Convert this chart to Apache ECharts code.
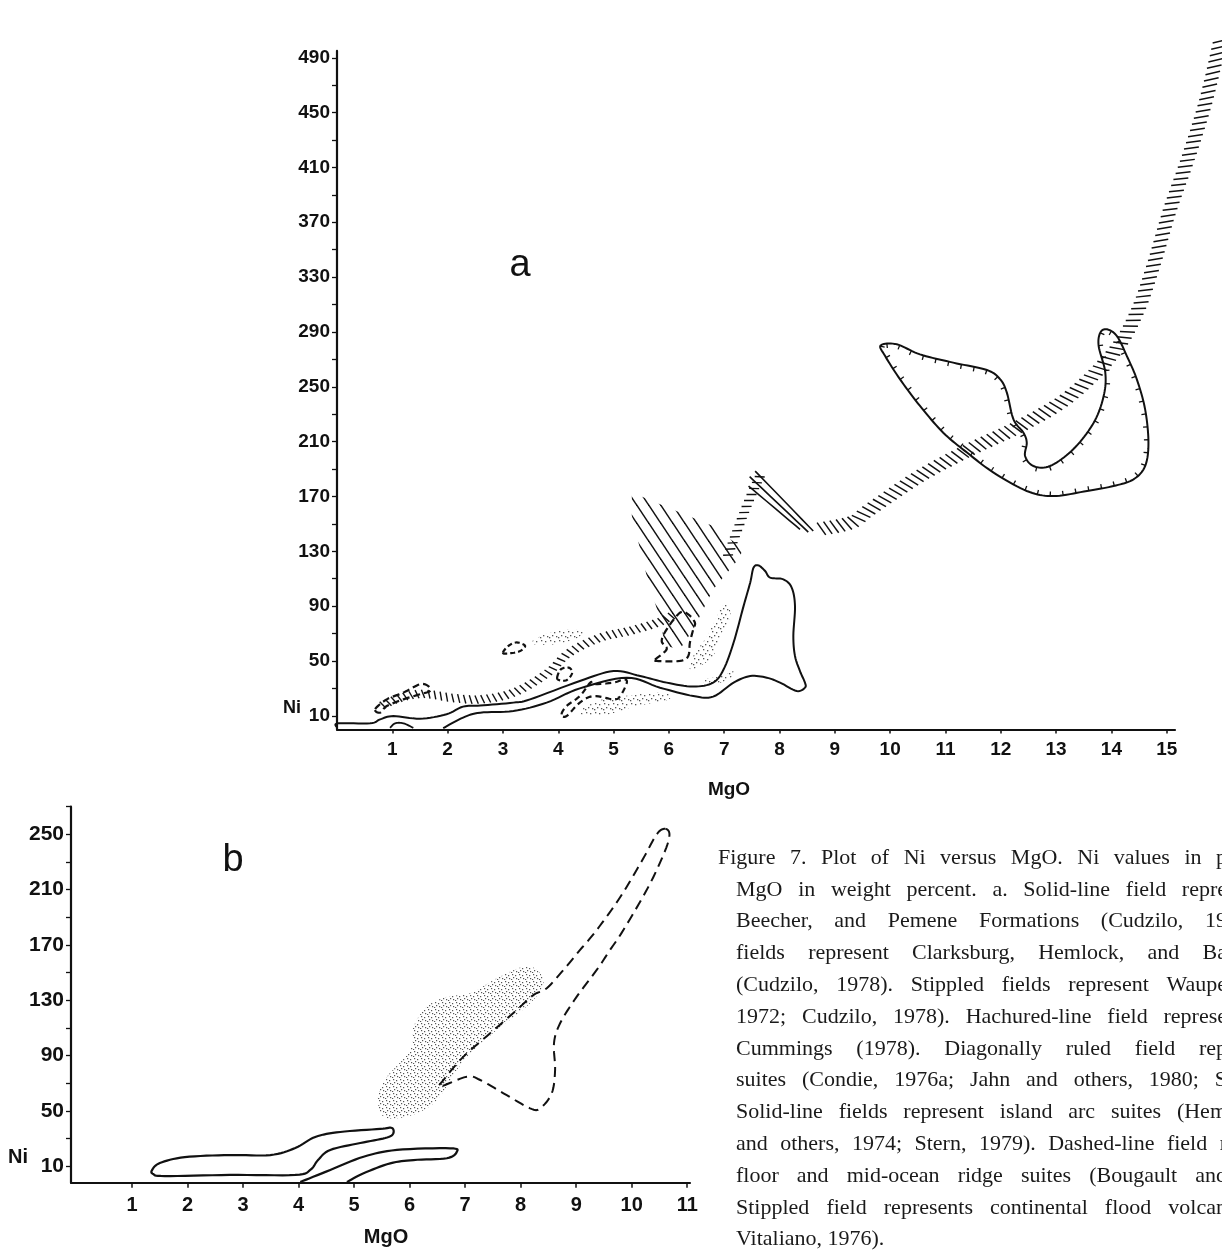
<!DOCTYPE html>
<html><head><meta charset="utf-8">
<script src="https://cdn.jsdelivr.net/npm/echarts@6/dist/echarts.min.js"></script>
<style>html,body{margin:0;padding:0;background:#fff}#c{width:1222px;height:1255px}</style>
</head><body><div id="c"></div>
<script>
// ---------------- DATA ----------------
// Chart a axes
const xLabelsA = [1,2,3,4,5,6,7,8,9,10,11,12,13,14,15];
const yLabelsA = [10,50,90,130,170,210,250,290,330,370,410,450,490];
const yTicksA = [10,30,50,70,90,110,130,150,170,190,210,230,250,270,290,310,330,350,370,390,410,430,450,470,490];
// Chart b axes
const xLabelsB = [1,2,3,4,5,6,7,8,9,10,11];
const yLabelsB = [10,50,90,130,170,210,250];
const yTicksB = [10,30,50,70,90,110,130,150,170,190,210,230,250,270];

// Chart a: solid-line field (open along MgO axis)  [MgO, Ni]
const aSolidField = [[1.92,1],[2.28,8.7],[2.59,12.3],[3.19,13.5],[3.79,19.6],[4.39,30],[5.24,37.8],[5.84,30.5],[6.44,24.4],[6.8,24],[7.17,34.2],[7.47,39],[7.77,37.8],[8.01,34.2],[8.31,28.1],[8.46,30.5],[8.46,34.2],[8.37,42.6],[8.28,53.6],[8.25,68.2],[8.28,90],[8.22,103.5],[8.07,109.5],[7.83,110.8],[7.74,115.6],[7.62,119.7],[7.53,118],[7.47,107.1],[7.35,90],[7.17,63.4],[6.99,43.9],[6.8,34.2],[6.44,31.3],[5.96,34.2],[5.48,39],[5.0,42.6],[4.39,35.4],[3.49,22],[3.19,19.6],[2.59,17.5],[2.28,16.7],[1.98,11.1],[1.5,7.9],[1.02,9.8],[0.78,7.4],[0.6,4.5],[0.02,4.5],[0,1.4]];
const aSolidArc = [[0.96,1.2],[1.05,4.5],[1.2,4.5],[1.38,1.2]];
// Chart a: dashed-line fields
const aDash1 = [[0.69,14.8],[0.9,22],[1.2,26.9],[1.5,33],[1.65,31.7],[1.68,28.1],[1.5,25.7],[1.2,22],[0.9,17.1],[0.78,12.3]];
const aDash2 = [[3.0,56],[3.1,61],[3.25,63.5],[3.4,61],[3.3,57],[3.1,55.5]];
const aDash3 = [[3.98,38],[4.05,44],[4.2,45],[4.25,41],[4.15,36],[4.02,36]];
const aDash4 = [[4.06,11.1],[4.15,17.1],[4.39,24.4],[4.58,34.2],[4.64,33],[5.0,34.2],[5.18,36.6],[5.24,34.2],[5.12,24.4],[5.0,22],[4.64,24.4],[4.39,19.6],[4.15,9.8]];
const aDash5 = [[5.75,51],[5.96,58.5],[5.87,64.5],[5.96,73],[6.2,85.2],[6.35,84],[6.47,78],[6.44,73],[6.38,63.4],[6.35,53.6],[6.2,50],[5.78,50]];
// Chart a: stippled fields
const aStipple1 = [[3.5,63],[3.8,70],[4.2,73],[4.45,71],[4.3,66],[3.9,62]];
const aStipple2 = [[7.05,91.3],[7.11,82.8],[6.93,68.2],[6.8,53.6],[6.56,46.3],[6.38,43.9],[6.44,53.6],[6.69,68.2],[6.87,82.8],[6.96,90]];
const aStipple3 = [[4.4,14],[4.8,22],[5.3,25],[5.9,27],[6.0,22],[5.4,17],[4.9,11],[4.5,10]];
const aStipple4 = [[6.6,36],[7.0,40],[7.2,43],[7.1,37],[6.8,33]];
// Chart a: diagonally ruled field
const aRuled = [[5.33,172.8],[6.2,158.2],[6.8,148.4],[7.35,131.4],[7.23,122.9],[6.8,102.2],[6.44,73],[6.2,58.5],[5.93,61],[5.84,80.4],[5.6,112],[5.33,156]];
const aRuledLine1 = [[7.56,188.5],[8.61,144.8]];
const aRuledLine2 = [[7.46,184.4],[8.52,144]];
const aRuledLine3 = [[7.44,177.6],[8.37,146]];
// Chart a: hachured trend lines
const aHachLeft = [[0.78,17],[1.14,23],[1.56,26],[2.1,23],[2.6,22],[3.2,27],[3.8,41],[4.2,56],[4.76,67],[5.3,72],[5.8,78],[6.1,84]];
const aHachMid = [[7.05,125],[7.3,152],[7.5,172],[7.65,185]];
const aHachRight = [[8.7,146],[9.3,151],[9.64,160.6],[10.54,184.9],[11.45,204.4],[12.35,221.4],[13.25,243.2],[14.04,274.9],[14.46,304.1],[14.76,338.5],[15.06,379.3],[15.39,417.2],[15.71,458.8],[15.97,503.3]];
// Chart a: field outlined with ticked line
const aTicked = [[9.83,280.2],[10.12,281],[10.54,273.6],[11.14,267.6],[11.75,262.2],[11.99,255.4],[12.11,245.7],[12.23,226.2],[12.41,216.5],[12.47,209.2],[12.44,199.5],[12.59,192.2],[12.89,192.2],[13.31,204.4],[13.68,223.8],[13.86,243.2],[13.89,260.3],[13.77,279.7],[13.8,289.5],[13.92,291.9],[14.1,287],[14.28,272.4],[14.46,255.4],[14.61,233.5],[14.67,209.2],[14.61,192.2],[14.4,182.5],[14.04,177.6],[13.56,174],[12.95,170.3],[12.47,174],[11.87,187.4],[11.39,202],[10.96,216.5],[10.54,236],[10.18,255.4],[9.91,272.4]];

// Chart b
const bSolid1 = [[1.36,7.1],[1.5,12.2],[1.95,16.5],[2.76,18],[3.49,18],[3.94,23.1],[4.3,31.1],[4.75,34.7],[5.47,36.9],[5.68,37.6],[5.7,33.2],[5.56,30.3],[5.11,26.7],[4.57,21.7],[4.35,14.4],[4.21,7.2],[3.94,3.6],[2.76,3.6],[1.59,2.8],[1.38,4.3]];
const bSolid2 = [[4.03,-1.5],[4.57,7.2],[5.17,16.8],[5.77,21.7],[6.73,22.9],[6.85,20.4],[6.67,15.7],[6.07,14.4],[5.65,12],[5.17,4.8],[4.87,-1.5]];
const bDashed = [[10.6,254],[10.45,250],[10.2,232],[9.8,205],[9.37,180.8],[9.07,166.4],[8.77,151.9],[8.47,138.7],[8.23,133.8],[7.93,123],[7.45,106.1],[6.97,89.2],[6.61,72.3],[6.55,67.5],[7.03,74.7],[7.27,72.3],[7.69,62.7],[8.17,51.8],[8.35,51.8],[8.56,62.7],[8.62,79.5],[8.6,98.9],[8.71,113.3],[9.01,132.6],[9.37,151.9],[9.61,166.4],[9.85,180.8],[10.3,212],[10.6,238],[10.68,250]];
const bStipple = [[5.44,62.7],[5.59,74.7],[6.01,94],[6.07,110.9],[6.31,125.4],[6.67,132.6],[7.09,135],[7.57,145.9],[8.05,154.3],[8.29,151.9],[8.41,142.3],[8.17,127.8],[7.57,108.5],[7.09,91.6],[6.85,79.5],[6.49,57.8],[6.13,48.2],[5.77,44.6],[5.53,45.8],[5.44,53]];

const captionLines = [
  "Figure 7. Plot of Ni versus MgO. Ni values in p",
  "MgO in weight percent. a. Solid-line field repre",
  "Beecher, and Pemene Formations (Cudzilo, 19",
  "fields represent Clarksburg, Hemlock, and Ba",
  "(Cudzilo, 1978). Stippled fields represent Waupe",
  "1972; Cudzilo, 1978). Hachured-line field represe",
  "Cummings (1978). Diagonally ruled field rep",
  "suites (Condie, 1976a; Jahn and others, 1980; S",
  "Solid-line fields represent island arc suites (Hem",
  "and others, 1974; Stern, 1979). Dashed-line field r",
  "floor and mid-ocean ridge suites (Bougault and",
  "Stippled field represents continental flood volcan",
  "Vitaliano, 1976)."
];

// ---------------- DRAWING HELPERS ----------------
const INK = '#111';
function catmull(pts, closed, segs) {
  const n = pts.length, out = [];
  const get = i => closed ? pts[(i + n) % n] : pts[Math.max(0, Math.min(n - 1, i))];
  const last = closed ? n : n - 1;
  for (let i = 0; i < last; i++) {
    const p0 = get(i - 1), p1 = get(i), p2 = get(i + 1), p3 = get(i + 2);
    for (let s = 0; s < segs; s++) {
      const t = s / segs, t2 = t * t, t3 = t2 * t;
      const f = k => 0.5 * (2 * p1[k] + (-p0[k] + p2[k]) * t + (2 * p0[k] - 5 * p1[k] + 4 * p2[k] - p3[k]) * t2 + (-p0[k] + 3 * p1[k] - 3 * p2[k] + p3[k]) * t3);
      out.push([f(0), f(1)]);
    }
  }
  out.push(closed ? out[0] : pts[n - 1]);
  return out;
}
function walk(path, step) {
  const res = []; let acc = step / 2;
  for (let i = 1; i < path.length; i++) {
    const a = path[i - 1], b = path[i];
    const dx = b[0] - a[0], dy = b[1] - a[1], L = Math.hypot(dx, dy);
    if (L === 0) continue;
    let pos = acc;
    while (pos <= L) { const t = pos / L; res.push({ x: a[0] + dx * t, y: a[1] + dy * t, tx: dx / L, ty: dy / L }); pos += step; }
    acc = pos - L;
  }
  return res;
}
function inside(pt, poly) {
  let c = false;
  for (let i = 0, j = poly.length - 1; i < poly.length; j = i++) {
    const a = poly[i], b = poly[j];
    if (((a[1] > pt[1]) !== (b[1] > pt[1])) && (pt[0] < (b[0] - a[0]) * (pt[1] - a[1]) / (b[1] - a[1]) + a[0])) c = !c;
  }
  return c;
}
function makePattern(w, h, draw) {
  const c = document.createElement('canvas'); c.width = w; c.height = h;
  draw(c.getContext('2d'), w, h); return c;
}
const dotPat = makePattern(9, 9, (g) => {
  g.fillStyle = '#555';
  [[1,1],[5,2],[3,5],[7,6],[0,7]].forEach(p => { g.fillRect(p[0], p[1], 1.3, 1.3); });
});
const dotPatDense = makePattern(7, 7, (g) => {
  g.fillStyle = '#555';
  [[1,1],[4,2],[2,4],[5,5],[0,6]].forEach(p => { g.fillRect(p[0], p[1], 1.2, 1.2); });
});
const rulePat = makePattern(12, 18, (g, w, h) => {
  g.strokeStyle = INK; g.lineWidth = 1.5;
  for (let k = -1; k <= 1; k++) { g.beginPath(); g.moveTo(k * w - w, -h); g.lineTo(k * w + 2 * w, 2 * h); g.stroke(); }
});

function shape(pts, gi, builder, z) {
  return { type: 'custom', xAxisIndex: gi, yAxisIndex: gi, data: pts, clip: false, silent: true, z: z || 3,
    encode: { x: 0, y: 1 },
    renderItem: (params, api) => params.dataIndex === 0 ? builder(pts.map(p => api.coord(p))) : null };
}
function openLine(pts, gi, dash, w) {
  return shape(pts, gi, pix => ({ type: 'polyline', shape: { points: catmull(pix, false, 8) },
    style: { stroke: INK, lineWidth: w || 2, fill: null, lineDash: dash || null } }), 4);
}
function closedLine(pts, gi, dash, w) {
  return shape(pts, gi, pix => ({ type: 'polyline', shape: { points: catmull(pix, true, 8) },
    style: { stroke: INK, lineWidth: w || 2, fill: null, lineDash: dash || null } }), 4);
}
function stipple(pts, gi, pat) {
  return shape(pts, gi, pix => ({ type: 'polygon', shape: { points: catmull(pix, true, 8) },
    style: { fill: { image: pat, repeat: 'repeat' }, stroke: null } }), 2);
}
function ruled(pts, gi) {
  return shape(pts, gi, pix => ({ type: 'polygon', shape: { points: pix },
    style: { fill: { image: rulePat, repeat: 'repeat' }, stroke: null } }), 2);
}
function hachure(pts, gi, step, len, rot, w) {
  return shape(pts, gi, pix => {
    const path = catmull(pix, false, 10);
    const children = walk(path, step).map(m => {
      let tx = m.tx, ty = m.ty; if (tx < 0) { tx = -tx; ty = -ty; }
      const nx = -ty, ny = tx;
      const dx = nx * Math.cos(rot) + tx * Math.sin(rot), dy = ny * Math.cos(rot) + ty * Math.sin(rot);
      const h = len / 2;
      return { type: 'line', shape: { x1: m.x - dx * h, y1: m.y - dy * h, x2: m.x + dx * h, y2: m.y + dy * h }, style: { stroke: INK, lineWidth: w } };
    });
    return { type: 'group', children };
  }, 3);
}
function ticked(pts, gi) {
  return shape(pts, gi, pix => {
    const path = catmull(pix, true, 10);
    const children = [{ type: 'polyline', shape: { points: path }, style: { stroke: INK, lineWidth: 2, fill: null } }];
    walk(path, 13).forEach(m => {
      let nx = -m.ty, ny = m.tx;
      if (!inside([m.x + nx * 3, m.y + ny * 3], path)) { nx = -nx; ny = -ny; }
      children.push({ type: 'line', shape: { x1: m.x, y1: m.y, x2: m.x + nx * 4.5, y2: m.y + ny * 4.5 }, style: { stroke: INK, lineWidth: 1.3 } });
    });
    return { type: 'group', children };
  }, 4);
}

// ---------------- CHART ----------------
const sans = "'Liberation Sans',Arial,sans-serif";
const axisLine = { show: true, onZero: false, lineStyle: { color: INK, width: 2.2 } };

const chart = echarts.init(document.getElementById('c'), null, { renderer: 'canvas' });
const graphics = [
  { type: 'text', x: 520, y: 266, style: { text: 'a', font: "38px " + sans, fill: INK, textAlign: 'center', textVerticalAlign: 'middle' } },
  { type: 'text', x: 233, y: 861, style: { text: 'b', font: "38px " + sans, fill: INK, textAlign: 'center', textVerticalAlign: 'middle' } },
  { type: 'text', x: 292, y: 708, style: { text: 'Ni', font: "bold 18px " + sans, fill: INK, textAlign: 'center', textVerticalAlign: 'middle' } },
  { type: 'text', x: 18, y: 1157, style: { text: 'Ni', font: "bold 20px " + sans, fill: INK, textAlign: 'center', textVerticalAlign: 'middle' } },
  { type: 'text', x: 729, y: 790, style: { text: 'MgO', font: "bold 19px " + sans, fill: INK, textAlign: 'center', textVerticalAlign: 'middle' } },
  { type: 'text', x: 386, y: 1237, style: { text: 'MgO', font: "bold 20px " + sans, fill: INK, textAlign: 'center', textVerticalAlign: 'middle' } }
];
// caption: justified lines (cut by the right edge as in the scan)
const capFont = "22px 'Liberation Serif','Times New Roman',serif";
const mctx = document.createElement('canvas').getContext('2d');
mctx.font = capFont;
captionLines.forEach((t, i) => {
  const x0 = i === 0 ? 718 : 736;
  const y = 858 + i * 31.8;
  const st = (txt) => ({ text: txt, font: capFont, fill: '#1a1a1a', textAlign: 'left', textVerticalAlign: 'middle' });
  if (i === captionLines.length - 1) { graphics.push({ type: 'text', x: x0, y, style: st(t) }); return; }
  const words = t.split(' ');
  const widths = words.map(w => mctx.measureText(w).width);
  const total = widths.reduce((s, v) => s + v, 0);
  const gap = Math.max(5.5, (1227 - x0 - total) / (words.length - 1));
  let x = x0;
  words.forEach((w, k) => { graphics.push({ type: 'text', x, y, style: st(w) }); x += widths[k] + gap; });
});

chart.setOption({
  animation: false,
  backgroundColor: '#fff',
  grid: [
    { left: 337, right: 47, top: 50.9, bottom: 525.5 },
    { left: 71, right: 532, top: 806.7, bottom: 72.3 }
  ],
  xAxis: [
    { gridIndex: 0, type: 'value', min: 0, max: 15.15, axisLine, splitLine: { show: false },
      axisTick: { show: true, length: 4, customValues: xLabelsA, lineStyle: { color: INK, width: 1.5 } },
      axisLabel: { customValues: xLabelsA, margin: 11, color: INK, fontFamily: sans, fontWeight: 'bold', fontSize: 19 } },
    { gridIndex: 1, type: 'value', min: -0.1, max: 11.05, axisLine, splitLine: { show: false },
      axisTick: { show: true, length: 5, customValues: xLabelsB, lineStyle: { color: INK, width: 1.5 } },
      axisLabel: { customValues: xLabelsB, margin: 13, color: INK, fontFamily: sans, fontWeight: 'bold', fontSize: 20 } }
  ],
  yAxis: [
    { gridIndex: 0, type: 'value', min: 0, max: 495, axisLine, splitLine: { show: false },
      axisTick: { show: true, length: 5, customValues: yTicksA, lineStyle: { color: INK, width: 1.3 } },
      axisLabel: { customValues: yLabelsA, margin: 7, color: INK, fontFamily: sans, fontWeight: 'bold', fontSize: 19 } },
    { gridIndex: 1, type: 'value', min: -2, max: 270, axisLine, splitLine: { show: false },
      axisTick: { show: true, length: 5, customValues: yTicksB, lineStyle: { color: INK, width: 1.3 } },
      axisLabel: { customValues: yLabelsB, margin: 7, color: INK, fontFamily: sans, fontWeight: 'bold', fontSize: 21 } }
  ],
  graphic: graphics,
  series: [
    // chart a
    stipple(aStipple1, 0, dotPat), stipple(aStipple2, 0, dotPat), stipple(aStipple3, 0, dotPat), stipple(aStipple4, 0, dotPat),
    ruled(aRuled, 0),
    openLine(aRuledLine1, 0, null, 1.6), openLine(aRuledLine2, 0, null, 1.6), openLine(aRuledLine3, 0, null, 1.6),
    hachure(aHachLeft, 0, 6, 9, 0.35, 1.4),
    hachure(aHachMid, 0, 6.5, 10, 0.4, 1.4),
    hachure(aHachRight, 0, 6.5, 15, 0.45, 1.5),
    openLine(aSolidField, 0, null, 2), openLine(aSolidArc, 0, null, 1.8),
    closedLine(aDash1, 0, [7, 4], 2.2), closedLine(aDash2, 0, [5, 3], 2.2), closedLine(aDash3, 0, [5, 3], 2.2),
    closedLine(aDash4, 0, [6, 4], 2.2), closedLine(aDash5, 0, [7, 4], 2.2),
    ticked(aTicked, 0),
    // chart b
    stipple(bStipple, 1, dotPatDense),
    closedLine(bSolid1, 1, null, 2.2), openLine(bSolid2, 1, null, 2.2),
    closedLine(bDashed, 1, [10, 6], 2)
  ]
});
</script></body></html>
